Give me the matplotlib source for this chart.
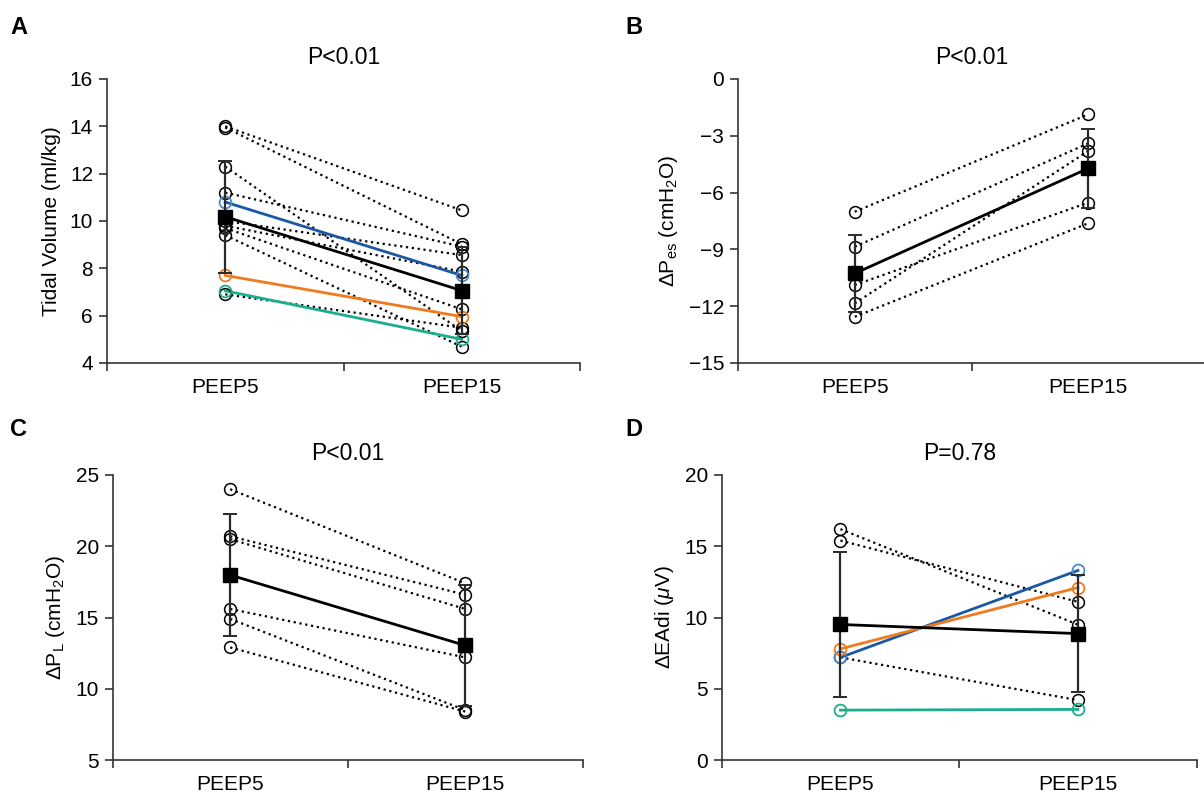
import matplotlib
matplotlib.use("Agg")
import matplotlib.pyplot as plt
from matplotlib.ticker import FixedLocator, NullFormatter, FixedFormatter

plt.rcParams['font.family'] = ['Liberation Sans', 'DejaVu Sans']
plt.rcParams['mathtext.fontset'] = 'custom'
plt.rcParams['mathtext.rm'] = 'Liberation Sans'
plt.rcParams['mathtext.it'] = 'Liberation Sans:italic'
plt.rcParams['mathtext.bf'] = 'Liberation Sans:bold'

# ---------------- data ----------------
categories = ["PEEP5", "PEEP15"]

# Panel A: tidal volume (ml/kg)
tv_peep5 = [14.0, 13.95, 12.3, 11.2, 10.0, 9.8, 9.7, 9.4, 6.9]
tv_peep15 = [10.45, 9.02, 5.35, 8.92, 8.56, 7.86, 6.27, 4.69, 5.49]
tv_blue = [10.8, 7.7]
tv_orange = [7.7, 5.96]
tv_green = [7.05, 5.0]
tv_mean = [10.18, 7.06]
tv_sd = [2.36, 1.85]

# Panel B: delta Pes (cmH2O)
pes_peep5 = [-7.01, -8.86, -10.88, -11.85, -12.56]
pes_peep15 = [-1.87, -3.40, -6.53, -3.80, -7.62]
pes_mean = [-10.27, -4.72]
pes_sd = [2.03, 2.08]

# Panel C: delta PL (cmH2O)
pl_peep5 = [24.0, 20.7, 20.5, 15.6, 14.9, 12.9]
pl_peep15 = [17.4, 16.6, 15.6, 12.2, 8.5, 8.4]
pl_mean = [17.98, 13.04]
pl_sd = [4.25, 4.26]

# Panel D: delta EAdi (uV)
ea_peep5 = [16.2, 15.4, 7.2]
ea_peep15 = [9.5, 11.1, 4.2]
ea_blue = [7.2, 13.3]
ea_orange = [7.8, 12.1]
ea_green = [3.5, 3.55]
ea_mean = [9.51, 8.87]
ea_sd = [5.07, 4.1]

titles = ["P<0.01", "P<0.01", "P<0.01", "P=0.78"]
panel_letters = ["A", "B", "C", "D"]

# ---------------- style ----------------
BLUE_LINE = "#1a58a6"
BLUE_PT = "#4a8ccf"
ORANGE = "#f07a1e"
GREEN = "#1bae8c"
AX_COL = "#333333"
FS = 15

fig = plt.figure(figsize=(12.04, 7.96), dpi=100)

positions = [
    [107 / 1204, 1 - 363 / 796, 473 / 1204, 284 / 796],
    [738 / 1204, 1 - 363 / 796, 467 / 1204, 284 / 796],
    [112.7 / 1204, 1 - 760 / 796, 470 / 1204, 285 / 796],
    [721.7 / 1204, 1 - 760 / 796, 475 / 1204, 285 / 796],
]

xs = [1, 2]


def style_axis(ax, ylim, yticks, ylabel, title, yticklabels=None):
    ax.set_xlim(0.5, 2.5)
    ax.set_ylim(*ylim)
    ax.set_yticks(yticks)
    if yticklabels is not None:
        ax.set_yticklabels(yticklabels)
    ax.xaxis.set_major_locator(FixedLocator([0.5, 1.5, 2.5]))
    ax.xaxis.set_major_formatter(NullFormatter())
    ax.xaxis.set_minor_locator(FixedLocator(xs))
    ax.xaxis.set_minor_formatter(FixedFormatter(categories))
    ax.tick_params(axis='x', which='major', length=6, width=1.2,
                   direction='out', color=AX_COL)
    ax.tick_params(axis='x', which='minor', length=0, pad=11, labelsize=FS)
    ax.tick_params(axis='y', length=6, width=1.2, direction='out',
                   color=AX_COL, labelsize=FS, pad=4)
    for s in ['top', 'right']:
        ax.spines[s].set_visible(False)
    for s in ['left', 'bottom']:
        ax.spines[s].set_color(AX_COL)
        ax.spines[s].set_linewidth(1.2)
    ax.spines['left'].set_bounds(ylim[0], ylim[1])
    ax.set_ylabel(ylabel, fontsize=FS, labelpad=6)
    ax.set_title(title, fontsize=16.5, pad=11)


def draw_black(ax, v5, v15):
    for a, b in zip(v5, v15):
        ax.plot(xs, [a, b], linestyle=':', color='black', lw=1.6, zorder=2)
        ax.plot(xs, [a, b], linestyle='none', marker='o', ms=8.5,
                mfc='none', mec='black', mew=1.1, zorder=4)


def draw_colored(ax, vals, lcol, pcol):
    ax.plot(xs, vals, '-', color=lcol, lw=2.0, zorder=3)
    ax.plot(xs, vals, linestyle='none', marker='o', ms=8.5, mfc='none',
            mec=pcol, mew=1.3, zorder=4)


def draw_mean(ax, mean, sd):
    ax.errorbar(xs, mean, yerr=sd, fmt='none', ecolor='#2a2a2a',
                elinewidth=1.6, capsize=5, capthick=1.4, zorder=5)
    ax.plot(xs, mean, '-', color='black', lw=2.0, marker='s', ms=10.5,
            mfc='black', mec='black', zorder=6)


# Panel A
axA = fig.add_axes(positions[0])
draw_black(axA, tv_peep5, tv_peep15)
draw_colored(axA, tv_blue, BLUE_LINE, BLUE_PT)
draw_colored(axA, tv_orange, ORANGE, ORANGE)
draw_colored(axA, tv_green, GREEN, GREEN)
draw_mean(axA, tv_mean, tv_sd)
style_axis(axA, (4, 16), [4, 6, 8, 10, 12, 14, 16],
           "Tidal Volume (ml/kg)", titles[0])

# Panel B
axB = fig.add_axes(positions[1])
draw_black(axB, pes_peep5, pes_peep15)
draw_mean(axB, pes_mean, pes_sd)
bt = [-15, -12, -9, -6, -3, 0]
style_axis(axB, (-15, 0), bt,
           r"$\Delta$P$_{\rm es}$ (cmH$_2$O)", titles[1],
           yticklabels=[("\u2212" + str(-t)) if t < 0 else str(t) for t in bt])

# Panel C
axC = fig.add_axes(positions[2])
draw_black(axC, pl_peep5, pl_peep15)
draw_mean(axC, pl_mean, pl_sd)
style_axis(axC, (5, 25), [5, 10, 15, 20, 25],
           r"$\Delta$P$_{\rm L}$ (cmH$_2$O)", titles[2])

# Panel D
axD = fig.add_axes(positions[3])
draw_black(axD, ea_peep5, ea_peep15)
draw_colored(axD, ea_blue, BLUE_LINE, BLUE_PT)
draw_colored(axD, ea_orange, ORANGE, ORANGE)
draw_colored(axD, ea_green, GREEN, GREEN)
draw_mean(axD, ea_mean, ea_sd)
style_axis(axD, (0, 20), [0, 5, 10, 15, 20],
           r"$\Delta$EAdi ($\mu$V)", titles[3])

# panel letters
for letter, (px, py) in zip(panel_letters,
                            [(10, 27), (625, 27), (10, 430), (625, 430)]):
    fig.text(px / 1204, 1 - py / 796, letter, fontsize=17, fontweight='bold',
             ha='left', va='center')

fig.savefig("out.png", dpi=100)
